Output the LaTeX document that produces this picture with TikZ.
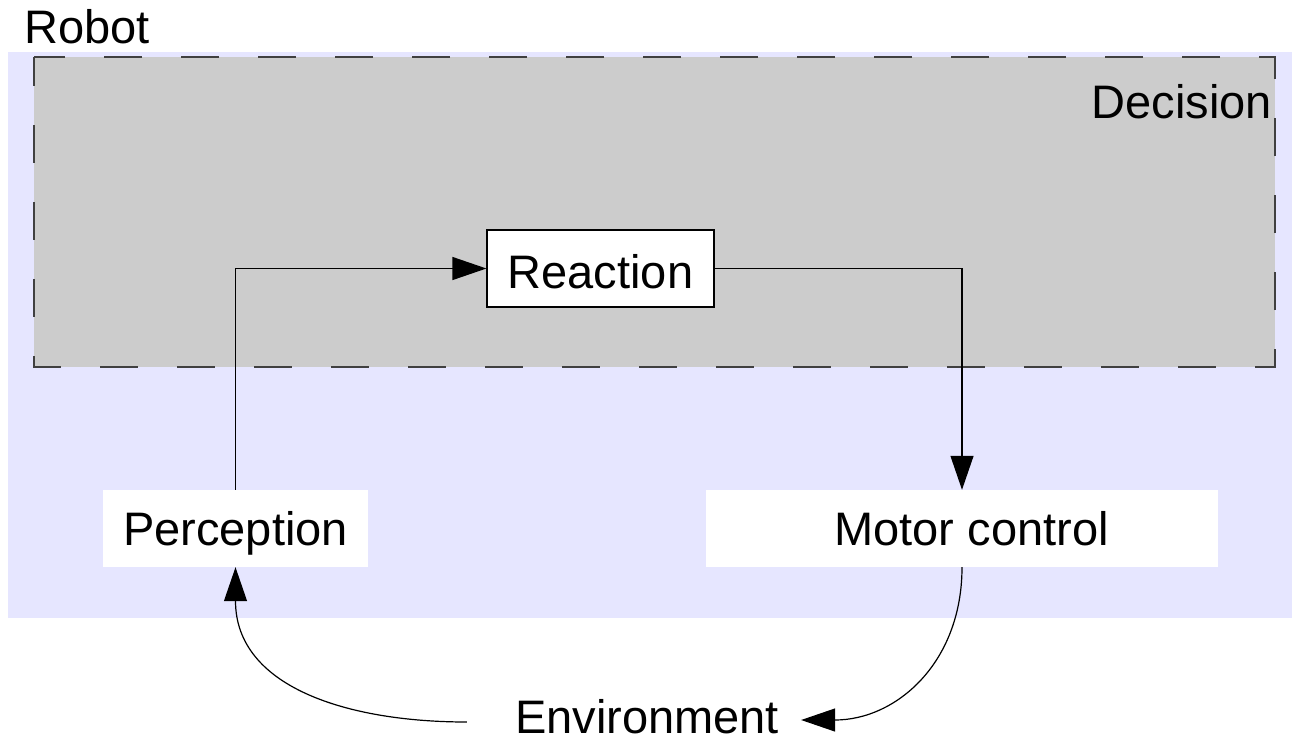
\documentclass[tikz,border=0pt]{standalone}
\usepackage{fontspec}
\setmainfont{Liberation Sans}
\usetikzlibrary{arrows.meta,positioning}
\definecolor{robotblue}{HTML}{E6E6FF}
\definecolor{decisiongray}{HTML}{CCCCCC}
\begin{document}
\begin{tikzpicture}[x=1pt,y=-1pt,
    every node/.style={font=\fontsize{47}{56}\selectfont},
    box/.style={fill=white, inner sep=0pt, text height=34pt, text depth=0pt, minimum height=77pt},
    flow/.style={line width=1.2pt, -{Triangle[length=34pt,width=23pt]}}]
    \useasboundingbox (0,0) rectangle (1292,745);
    % robot body
    \fill[robotblue] (8,52) rectangle (1292,618);
    \node[anchor=base west, inner sep=0pt] (Rb) at (24,43) {Robot};
    % decision layer
    \fill[decisiongray] (34,57) rectangle (1275,367);
    \draw[line width=1.3pt, color=black!75, dash pattern=on 38pt off 39pt, dash phase=9pt] (34,57) rectangle (1275,367);
    \node[anchor=base east, inner sep=0pt] (D) at (1272,118) {Decision};
    % boxes
    \node[box, draw, line width=1.2pt, minimum width=227pt] (R) at (600.5,268.5) {\raisebox{-3pt}{Reaction}};
    \node[box, minimum width=265pt] (P) at (235.5,528.5) {Perception};
    \node[box, minimum width=512pt] (M) at (962,528.5) {\hspace*{19pt}Motor control};
    \node[box, fill=none] (E) at (647,716) {Environment};
    % loop
    \draw[flow] (M.south) to[out=-90, in=0, looseness=1.1] ([xshift=22pt,yshift=-4pt]E.east);
    \draw[flow] ([xshift=-48pt,yshift=-6pt]E.west) to[out=180, in=-90, looseness=1.1] (P.south);
    \draw[flow] (P.north) |- (R.west);
    \draw[flow] (R.east) -| (M.north);
\end{tikzpicture}
\end{document}
